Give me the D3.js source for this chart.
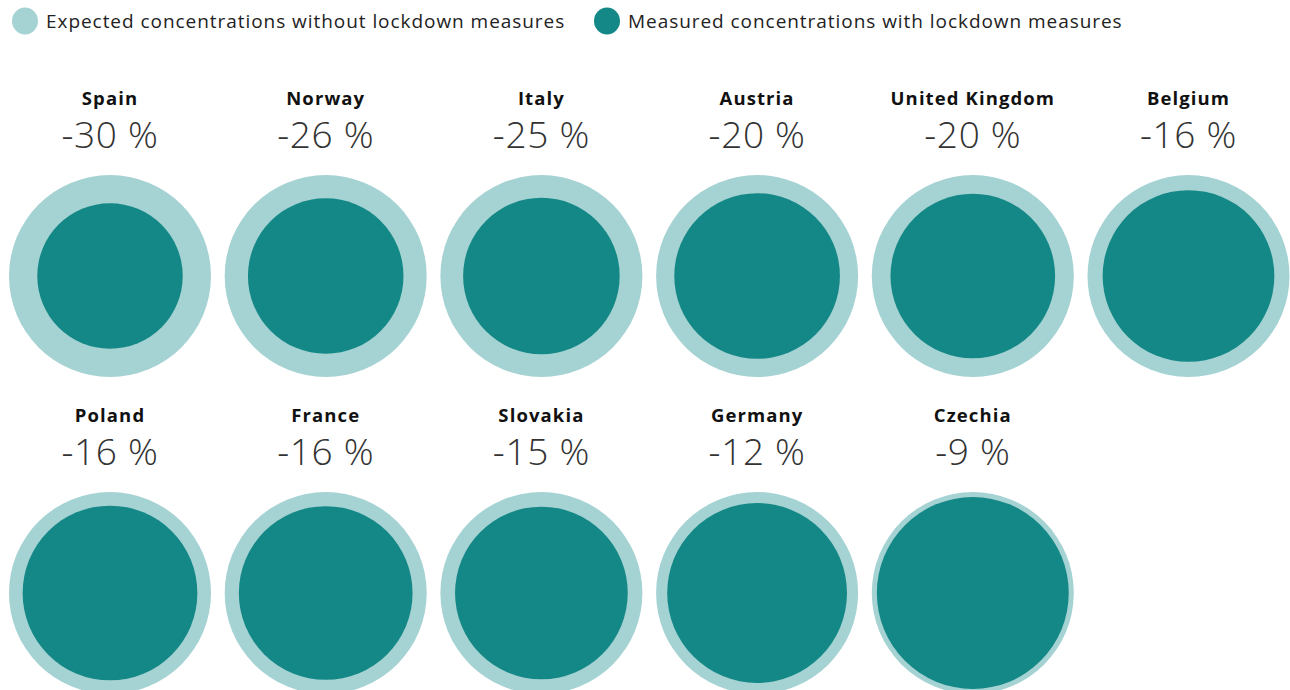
<!DOCTYPE html>
<html>
<head>
<meta charset="utf-8">
<script src="https://cdn.jsdelivr.net/npm/d3@7"></script>
<style>
  body { margin: 0; background: #fff; font-family: 'Open Sans', sans-serif; }
</style>
</head>
<body>
<div id="chart"></div>
<script>
// countries in display order
const countries = ['Spain', 'Norway', 'Italy', 'Austria', 'United Kingdom', 'Belgium',
  'Poland', 'France', 'Slovakia', 'Germany', 'Czechia'];
// change in concentration (label)
const changePct = [-30, -26, -25, -20, -20, -16, -16, -16, -15, -12, -9];
const measuredIdx = [72, 77, 77.5, 82, 81.5, 85, 86.5, 86, 85.5, 89, 95];
const expectedIdx = 100;
const legendLabels = ['Expected concentrations without lockdown measures',
  'Measured concentrations with lockdown measures'];

const width = 1290, height = 690;
const cols = 6;
const lightColor = '#a5d2d3', darkColor = '#148886';

const svg = d3.select('#chart').append('svg')
  .attr('width', width)
  .attr('height', height);

// legend
const legend = svg.append('g');
const legendX = [25, 607];
legendLabels.forEach((label, i) => {
  legend.append('ellipse')
    .attr('cx', legendX[i]).attr('cy', 21)
    .attr('rx', 13).attr('ry', 13.5)
    .attr('fill', i === 0 ? lightColor : darkColor);
  legend.append('text')
    .attr('x', legendX[i] + 21).attr('y', 28)
    .attr('font-size', 19)
    .attr('letter-spacing', 0.95)
    .attr('fill', '#222')
    .text(label);
});

const x = d3.scalePoint()
  .domain(d3.range(cols))
  .range([110, 1188.5]);
const y = d3.scalePoint()
  .domain([0, 1])
  .range([276, 593]);
const r = d3.scaleLinear()
  .domain([0, expectedIdx])
  .range([0, 101]);

const data = countries.map((c, i) => ({
  name: c, pct: changePct[i], measured: measuredIdx[i],
  col: i % cols, row: Math.floor(i / cols)
}));

const cell = svg.selectAll('.cell')
  .data(data)
  .enter()
  .append('g')
  .attr('class', 'cell')
  .attr('transform', d => `translate(${x(d.col)},${y(d.row)})`);

cell.append('circle')
  .attr('r', r(expectedIdx))
  .attr('fill', lightColor);

cell.append('circle')
  .attr('r', d => r(d.measured))
  .attr('fill', darkColor);

cell.append('text')
  .attr('y', -171.5)
  .attr('text-anchor', 'middle')
  .attr('font-size', 18.5)
  .attr('font-weight', 700)
  .attr('letter-spacing', 1.1)
  .attr('fill', '#111')
  .text(d => d.name);

cell.append('text')
  .attr('y', -128)
  .attr('text-anchor', 'middle')
  .attr('font-size', 37)
  .attr('font-weight', 300)
  .attr('letter-spacing', 0.7)
  .attr('fill', '#333')
  .text(d => `${d.pct} %`);
</script>
</body>
</html>
